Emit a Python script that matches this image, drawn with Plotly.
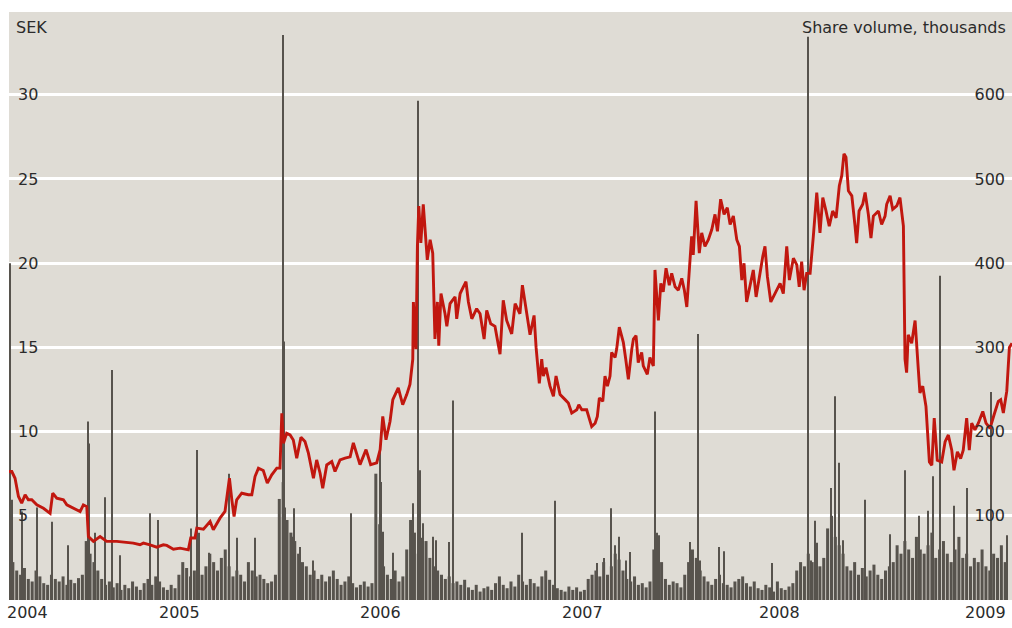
import plotly.graph_objects as go

# ---- Share price (SEK), time in decimal years ----
price_t = [
    2004.156, 2004.170, 2004.186, 2004.203, 2004.219, 2004.236, 2004.252, 2004.269, 2004.294, 2004.327,
    2004.360, 2004.373, 2004.393, 2004.426, 2004.443, 2004.475, 2004.509, 2004.525, 2004.542, 2004.550,
    2004.575, 2004.608, 2004.641, 2004.691, 2004.773, 2004.806, 2004.823, 2004.856, 2004.889, 2004.922,
    2004.939, 2004.972, 2005.005, 2005.046, 2005.058, 2005.079, 2005.088, 2005.121, 2005.154, 2005.170,
    2005.203, 2005.228, 2005.250, 2005.262, 2005.273, 2005.286, 2005.311, 2005.344, 2005.361, 2005.377,
    2005.394, 2005.418, 2005.438, 2005.460, 2005.485, 2005.501, 2005.510, 2005.518, 2005.534, 2005.551,
    2005.567, 2005.584, 2005.605, 2005.625, 2005.642, 2005.667, 2005.683, 2005.700, 2005.713, 2005.733,
    2005.758, 2005.774, 2005.799, 2005.824, 2005.849, 2005.865, 2005.898, 2005.928, 2005.951, 2005.981,
    2005.998, 2006.011, 2006.027, 2006.047, 2006.061, 2006.088, 2006.110, 2006.130, 2006.146, 2006.160,
    2006.163, 2006.176, 2006.183, 2006.190, 2006.200, 2006.212, 2006.232, 2006.246, 2006.259, 2006.270,
    2006.282, 2006.289, 2006.300, 2006.320, 2006.329, 2006.345, 2006.370, 2006.378, 2006.395, 2006.411,
    2006.424, 2006.436, 2006.453, 2006.477, 2006.494, 2006.514, 2006.527, 2006.547, 2006.568, 2006.593,
    2006.609, 2006.626, 2006.651, 2006.668, 2006.692, 2006.704, 2006.717, 2006.742, 2006.762, 2006.772,
    2006.788, 2006.800, 2006.808, 2006.821, 2006.841, 2006.858, 2006.871, 2006.891, 2006.916, 2006.932,
    2006.949, 2006.974, 2006.984, 2006.999, 2007.023, 2007.048, 2007.065, 2007.076, 2007.086, 2007.103,
    2007.114, 2007.126, 2007.139, 2007.147, 2007.164, 2007.172, 2007.185, 2007.205, 2007.217, 2007.230,
    2007.247, 2007.255, 2007.268, 2007.279, 2007.296, 2007.304, 2007.324, 2007.337, 2007.354, 2007.362,
    2007.379, 2007.391, 2007.403, 2007.417, 2007.433, 2007.445, 2007.462, 2007.478, 2007.495, 2007.508,
    2007.520, 2007.536, 2007.544, 2007.552, 2007.566, 2007.582, 2007.594, 2007.610, 2007.627, 2007.644,
    2007.660, 2007.672, 2007.688, 2007.705, 2007.721, 2007.735, 2007.751, 2007.768, 2007.781, 2007.793,
    2007.804, 2007.817, 2007.834, 2007.850, 2007.864, 2007.880, 2007.897, 2007.908, 2007.920, 2007.937,
    2007.958, 2007.983, 2007.999, 2008.016, 2008.029, 2008.049, 2008.066, 2008.078, 2008.090, 2008.102,
    2008.115, 2008.132, 2008.148, 2008.165, 2008.181, 2008.195, 2008.211, 2008.227, 2008.244, 2008.261,
    2008.277, 2008.289, 2008.300, 2008.310, 2008.322, 2008.339, 2008.355, 2008.363, 2008.375, 2008.393,
    2008.405, 2008.421, 2008.434, 2008.446, 2008.471, 2008.487, 2008.504, 2008.512, 2008.529, 2008.542,
    2008.562, 2008.578, 2008.595, 2008.603, 2008.611, 2008.619, 2008.636, 2008.653, 2008.669, 2008.677,
    2008.691, 2008.707, 2008.724, 2008.736, 2008.748, 2008.763, 2008.785, 2008.802, 2008.818, 2008.835,
    2008.846, 2008.863, 2008.879, 2008.892, 2008.909, 2008.922, 2008.934, 2008.950, 2008.967, 2008.989,
    2009.005, 2009.025, 2009.045, 2009.066, 2009.078, 2009.091, 2009.108, 2009.121, 2009.134,
]
price_sek = [
    7.63, 7.63, 7.23, 6.15, 5.75, 6.25, 5.95, 5.95, 5.65, 5.45,
    5.15, 6.35, 6.05, 5.95, 5.65, 5.45, 5.25, 5.65, 5.55, 3.77,
    3.48, 3.77, 3.48, 3.48, 3.38, 3.28, 3.38, 3.28, 3.14, 3.28,
    3.24, 3.02, 3.08, 2.98, 3.68, 3.68, 4.27, 4.21, 4.66, 4.17,
    4.86, 5.26, 7.23, 5.95, 4.96, 5.95, 6.34, 6.25, 6.25, 7.33,
    7.83, 7.69, 6.94, 7.43, 7.83, 7.83, 11.09, 9.31, 9.90, 9.80,
    9.50, 8.42, 9.66, 9.41, 8.72, 7.23, 8.32, 7.53, 6.64, 8.02,
    8.22, 7.63, 8.32, 8.42, 8.50, 9.33, 8.04, 8.93, 8.04, 8.14,
    8.93, 10.9, 9.52, 10.6, 11.9, 12.6, 11.6, 12.2, 12.8, 14.3,
    17.7, 14.9, 21.0, 23.4, 21.2, 23.5, 20.2, 21.4, 20.6, 15.5,
    17.7, 15.1, 18.2, 17.0, 16.25, 17.6, 18.0, 16.7, 18.2, 18.6,
    18.9, 17.7, 16.7, 17.3, 17.0, 15.5, 17.2, 16.4, 16.25, 14.6,
    17.8, 16.6, 15.8, 17.6, 17.0, 18.7, 17.6, 15.75, 16.9, 15.0,
    12.87, 14.3, 13.3, 13.8, 12.7, 12.1, 13.3, 12.2, 11.9, 11.7,
    11.1, 11.3, 11.6, 11.3, 11.3, 10.3, 10.5, 10.9, 12.0, 11.8,
    13.3, 12.7, 13.3, 14.7, 14.4, 14.9, 16.2, 15.3, 14.3, 13.1,
    14.9, 15.5, 15.7, 14.1, 14.7, 13.9, 13.4, 14.4, 13.9, 19.6,
    16.6, 18.8, 18.3, 19.7, 18.7, 19.4, 18.6, 18.4, 19.1, 18.4,
    17.4, 20.4, 21.6, 20.5, 23.7, 20.6, 21.8, 21.0, 21.4, 22.0,
    22.9, 21.9, 23.8, 22.9, 23.3, 22.3, 22.8, 21.4, 21.0, 19.0,
    20.0, 17.7, 18.7, 19.6, 18.0, 19.2, 20.4, 21.0, 19.2, 17.7,
    18.2, 18.8, 18.2, 21.0, 19.0, 20.3, 19.9, 18.6, 20.1, 18.4,
    19.4, 19.4, 21.6, 24.2, 21.8, 23.9, 23.1, 22.2, 23.1, 22.7,
    24.6, 25.2, 26.5, 26.3, 24.3, 24.0, 22.2, 21.2, 23.1, 23.5,
    24.2, 22.9, 21.5, 22.8, 23.1, 22.3, 22.8, 23.5, 24.0, 23.2,
    23.4, 23.9, 22.2, 14.3, 13.5, 15.75, 15.25, 16.6, 13.7, 12.3,
    12.7, 11.5, 8.2, 8.0, 10.8, 8.3, 8.2, 9.4, 9.8, 8.9,
    7.7, 8.8, 8.4, 8.9, 10.8, 8.9, 10.5, 10.1, 10.5, 11.2,
    10.5, 10.2, 11.0, 11.8, 11.9, 11.1, 12.4, 15.0, 15.25,
]

# ---- Share volume, thousands: typical weekly level (one value per week from start) ----
vol_start = 2004.156
weeks_per_year = 52.18
vol_weekly_k = [
    55, 45, 35,
    30, 38, 25, 22, 35, 28, 20, 18, 30, 25, 22, 28, 18, 24, 20, 26, 30,
    70, 55, 45, 35,
    25, 18, 22, 15, 20, 12, 18, 14, 22, 16, 12, 20, 25, 18, 28, 22, 15, 12, 18, 14,
    30, 45, 38, 28, 35,
    25, 30, 40, 55, 45, 35, 50, 60, 40, 28, 35, 30, 22, 45, 35, 28, 30, 25, 20, 22, 30,
    120, 140, 95, 80, 70,
    55, 45, 40, 30, 35, 25, 30, 22, 28, 35,
    25, 18, 22, 28, 20, 15, 18, 22, 16, 20,
    150, 90,
    40, 30, 25, 35, 22, 28,
    60, 95, 80, 55, 65, 70, 50, 40,
    35, 30, 25, 28, 20, 22, 18, 24,
    15, 12, 18, 10, 14, 16, 12, 20, 28, 18, 14, 22, 16,
    30, 22, 18, 25, 20, 16, 28, 35, 24, 18,
    14, 12, 10, 16, 12, 15, 10, 12,
    25, 30, 35, 28, 45, 30, 40, 55, 48, 35, 25, 22, 28, 18, 20, 15, 22, 60,
    70, 45,
    25, 18, 22, 20, 15, 30,
    45, 60, 50, 35,
    28, 22, 18, 25, 30, 20, 18, 15, 22, 25, 28, 20, 16, 22,
    14, 12, 18, 15, 10, 22, 14, 12, 16, 20,
    35, 45, 40,
    55, 45, 35, 40, 50,
    85, 100, 75, 65, 55,
    40, 35, 45, 30, 38, 28, 35, 42, 30, 25, 35, 40, 45,
    65, 55, 70, 60, 50, 75, 60, 55, 65, 80, 50, 60, 70, 55, 45, 60, 75, 50, 55, 40,
    50, 45, 60, 40, 35, 55, 50, 65, 45,
]

# ---- Single-day volume peaks (thousands) ----
peak_t = [
    2004.161, 2004.171, 2004.221, 2004.295, 2004.370, 2004.449, 2004.548, 2004.553, 2004.583, 2004.633,
    2004.667, 2004.707, 2004.856, 2004.896, 2005.060, 2005.091, 2005.099, 2005.149, 2005.250, 2005.286,
    2005.377, 2005.515, 2005.521, 2005.528, 2005.534, 2005.559, 2005.572, 2005.600, 2005.663, 2005.852,
    2005.998, 2006.002, 2006.010, 2006.061, 2006.163, 2006.188, 2006.194, 2006.201, 2006.212, 2006.262,
    2006.274, 2006.341, 2006.361, 2006.704, 2006.867, 2007.073, 2007.111, 2007.146, 2007.165, 2007.185,
    2007.218, 2007.238, 2007.364, 2007.371, 2007.384, 2007.538, 2007.577, 2007.586, 2007.681, 2007.705,
    2007.941, 2008.122, 2008.136, 2008.155, 2008.165, 2008.235, 2008.255, 2008.277, 2008.295, 2008.405,
    2008.529, 2008.603, 2008.674, 2008.715, 2008.744, 2008.777, 2008.848, 2008.912, 2009.031, 2009.108,
]
peak_k = [
    400, 119, 105, 110, 93, 65, 212, 186, 80, 122,
    273, 53, 103, 95, 85, 178, 80, 56, 150, 74,
    74, 671, 307, 110, 80, 75, 109, 63, 47, 103,
    178, 140, 81, 56, 115, 593, 154, 74, 91, 75,
    71, 69, 237, 80, 118, 44, 50, 109, 65, 75,
    47, 57, 224, 80, 77, 69, 316, 47, 63, 58,
    44, 669, 47, 94, 68, 133, 242, 163, 71, 119,
    78, 154, 100, 106, 147, 385, 112, 133, 247, 77,
]

year_label_pos = [2004.25, 2005.0, 2006.0, 2007.0, 2007.98, 2009.0]
year_labels = ["2004", "2005", "2006", "2007", "2008", "2009"]
sek_ticks = [5, 10, 15, 20, 25, 30]
vol_ticks = [100, 200, 300, 400, 500, 600]

RED = "#c1170f"
VOL = "#57534d"
BG = "#dfdcd5"
TXT = "#2b2b2b"
FONT = "DejaVu Sans"

week_t = [vol_start + i / weeks_per_year for i in range(len(vol_weekly_k))]

fig = go.Figure()
fig.add_trace(go.Bar(x=week_t, y=vol_weekly_k, width=0.0150,
                     marker=dict(color=VOL, line=dict(width=0)), yaxis="y", hoverinfo="skip"))
fig.add_trace(go.Bar(x=peak_t, y=peak_k, width=0.0055,
                     marker=dict(color=VOL, line=dict(width=0)), yaxis="y", hoverinfo="skip"))
fig.add_trace(go.Scatter(x=price_t, y=price_sek, mode="lines",
                         line=dict(color=RED, width=2.9), yaxis="y2"))

annotations = [
    dict(text="SEK", xref="paper", yref="paper", x=0.005, y=0.974, xanchor="left",
         yanchor="middle", showarrow=False, font=dict(family=FONT, size=16, color=TXT)),
    dict(text="Share volume, thousands", xref="paper", yref="paper", x=0.996, y=0.974,
         xanchor="right", yanchor="middle", showarrow=False,
         font=dict(family=FONT, size=16, color=TXT)),
]
for pos, lab in zip(year_label_pos, year_labels):
    annotations.append(dict(text=lab, xref="x", yref="paper", x=pos, y=-0.022,
                            xanchor="center", yanchor="middle", showarrow=False,
                            font=dict(family=FONT, size=16, color=TXT)))

fig.update_layout(
    width=1012, height=628,
    margin=dict(l=9, r=0, t=12, b=28, autoexpand=False),
    paper_bgcolor="white", plot_bgcolor=BG,
    barmode="overlay", showlegend=False,
    font=dict(family=FONT, size=16, color=TXT),
    xaxis=dict(range=[2004.156, 2009.134], showticklabels=False,
               showgrid=False, zeroline=False, showline=False, ticks=""),
    yaxis=dict(side="right", range=[0, 698.3], tickvals=vol_ticks,
               showgrid=True, gridcolor="white", gridwidth=2.5, zeroline=False,
               ticklabelposition="inside", ticks="", ticklabelstandoff=4,
               tickfont=dict(family=FONT, size=16, color=TXT)),
    yaxis2=dict(side="left", overlaying="y", range=[0, 34.92], tickvals=sek_ticks,
                showgrid=False, zeroline=False,
                ticklabelposition="inside", ticks="", ticklabelstandoff=6,
                tickfont=dict(family=FONT, size=16, color=TXT)),
    annotations=annotations,
)

fig.write_html("out.html", config={"displayModeBar": False},
               post_script="document.body.style.margin='0px';document.body.style.padding='0px';")
